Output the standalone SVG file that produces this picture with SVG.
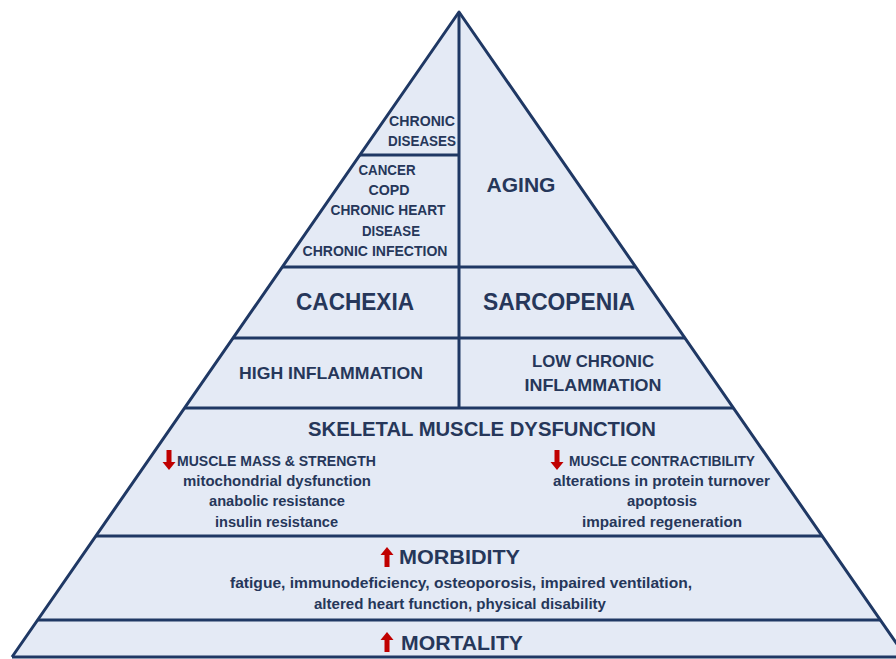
<svg xmlns="http://www.w3.org/2000/svg" width="896" height="659" viewBox="0 0 896 659">
<style>
.ln{stroke:#1F3864;stroke-width:3;fill:none;stroke-linejoin:round}
text{font-family:"Liberation Sans",Arial,sans-serif;font-weight:bold;fill:#26375a;text-anchor:middle}
.s{font-size:14px}
.m{font-size:17px}
.l{font-size:20px}
.xl{font-size:23px}
.ar{fill:#C00000;stroke:none}
</style>
<defs>
<path id="up" d="M0,-10 L6.5,-2 L2.5,-2 L2.5,10 L-2.5,10 L-2.5,-2 L-6.5,-2 Z"/>
<path id="dn" d="M0,10 L6.5,2 L2.5,2 L2.5,-10 L-2.5,-10 L-2.5,2 L-6.5,2 Z"/>
</defs>
<rect width="896" height="659" fill="#ffffff"/>
<g id="pyramid">
<polygon points="459,12 12,657 906,657" fill="#E4EAF5"/>
</g>
<g id="connectors">
<polyline class="ln" points="12,657 459,12 906,657"/>
<line class="ln" x1="459" y1="12" x2="459" y2="408"/>
<line class="ln" x1="360" y1="155" x2="459" y2="155"/>
<line class="ln" x1="282" y1="267" x2="636" y2="267"/>
<line class="ln" x1="233" y1="338" x2="685" y2="338"/>
<line class="ln" x1="185" y1="408" x2="733" y2="408"/>
<line class="ln" x1="96" y1="536" x2="822" y2="536"/>
<line class="ln" x1="38" y1="620" x2="880" y2="620"/>
<line class="ln" x1="12" y1="657" x2="896" y2="657"/>
</g>
<g id="chronic-diseases">
<text class="s" x="422" y="126" textLength="66" lengthAdjust="spacingAndGlyphs">CHRONIC</text>
<text class="s" x="422" y="146" textLength="68" lengthAdjust="spacingAndGlyphs">DISEASES</text>
</g>
<g id="diseases-list">
<text class="s" x="387" y="175" textLength="57" lengthAdjust="spacingAndGlyphs">CANCER</text>
<text class="s" x="389" y="195" textLength="41" lengthAdjust="spacingAndGlyphs">COPD</text>
<text class="s" x="388" y="215" textLength="115" lengthAdjust="spacingAndGlyphs">CHRONIC HEART</text>
<text class="s" x="391" y="236" textLength="58" lengthAdjust="spacingAndGlyphs">DISEASE</text>
<text class="s" x="375" y="256" textLength="145" lengthAdjust="spacingAndGlyphs">CHRONIC INFECTION</text>
</g>
<g id="aging">
<text class="l" x="521" y="192" textLength="69" lengthAdjust="spacingAndGlyphs">AGING</text>
</g>
<g id="cachexia">
<text class="xl" x="355" y="310" textLength="118" lengthAdjust="spacingAndGlyphs">CACHEXIA</text>
</g>
<g id="sarcopenia">
<text class="xl" x="559" y="310" textLength="152" lengthAdjust="spacingAndGlyphs">SARCOPENIA</text>
</g>
<g id="high-inflammation">
<text class="m" x="331" y="379" textLength="184" lengthAdjust="spacingAndGlyphs">HIGH INFLAMMATION</text>
</g>
<g id="low-inflammation">
<text class="m" x="593" y="367" textLength="122" lengthAdjust="spacingAndGlyphs">LOW CHRONIC</text>
<text class="m" x="593" y="391" textLength="137" lengthAdjust="spacingAndGlyphs">INFLAMMATION</text>
</g>
<g id="skeletal-muscle">
<text class="l" x="482" y="436" textLength="348" lengthAdjust="spacingAndGlyphs">SKELETAL MUSCLE DYSFUNCTION</text>
<use href="#dn" class="ar" x="169" y="460"/>
<text class="s" x="276.5" y="466" textLength="199" lengthAdjust="spacingAndGlyphs">MUSCLE MASS &amp; STRENGTH</text>
<text class="s" x="277" y="486" textLength="188" lengthAdjust="spacingAndGlyphs">mitochondrial dysfunction</text>
<text class="s" x="277" y="506" textLength="136" lengthAdjust="spacingAndGlyphs">anabolic resistance</text>
<text class="s" x="276.5" y="527" textLength="123" lengthAdjust="spacingAndGlyphs">insulin resistance</text>
<use href="#dn" class="ar" x="557" y="460"/>
<text class="s" x="662" y="466" textLength="186" lengthAdjust="spacingAndGlyphs">MUSCLE CONTRACTIBILITY</text>
<text class="s" x="661.5" y="486" textLength="217" lengthAdjust="spacingAndGlyphs">alterations in protein turnover</text>
<text class="s" x="662" y="506" textLength="70" lengthAdjust="spacingAndGlyphs">apoptosis</text>
<text class="s" x="662" y="527" textLength="160" lengthAdjust="spacingAndGlyphs">impaired regeneration</text>
</g>
<g id="morbidity">
<use href="#up" class="ar" x="387" y="557"/>
<text class="l" x="459.5" y="564" textLength="121" lengthAdjust="spacingAndGlyphs">MORBIDITY</text>
<text class="s" x="461" y="588" textLength="462" lengthAdjust="spacingAndGlyphs">fatigue, immunodeficiency, osteoporosis, impaired ventilation,</text>
<text class="s" x="460" y="609" textLength="292" lengthAdjust="spacingAndGlyphs">altered heart function, physical disability</text>
</g>
<g id="mortality">
<use href="#up" class="ar" x="387" y="642"/>
<text class="l" x="462" y="650" textLength="122" lengthAdjust="spacingAndGlyphs">MORTALITY</text>
</g>
</svg>
